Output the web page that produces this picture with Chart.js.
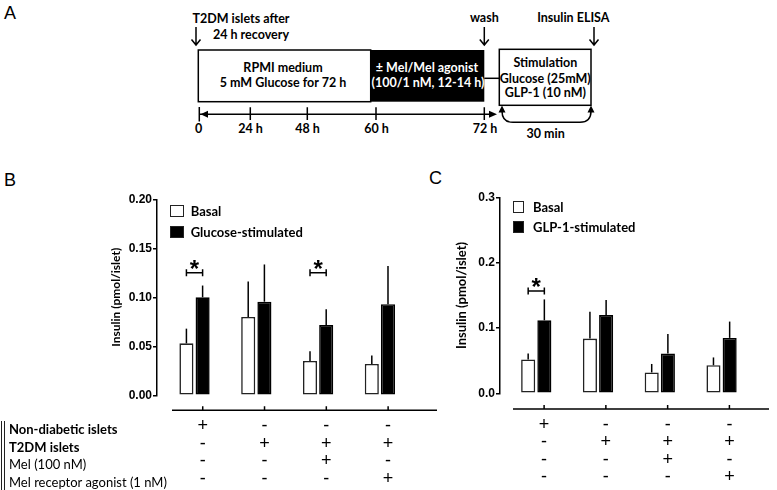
<!DOCTYPE html>
<html>
<head>
<meta charset="utf-8">
<script src="https://cdn.jsdelivr.net/npm/chart.js@4.4.1/dist/chart.umd.min.js"></script>
<style>
  body { margin: 0; background: #fff; }
  #fig { position: relative; width: 777px; height: 490px; overflow: hidden; font-family: Lato, sans-serif; color: #000; }
  canvas { position: absolute; }
  .plabel { position: absolute; font-family: 'Liberation Sans', Arial, sans-serif; font-size: 18px; line-height: 18px; }
  .leg { position: absolute; font-weight: bold; font-size: 13px; }
  .leg div { display: flex; align-items: center; white-space: nowrap; }
  .leg i { display: inline-block; box-sizing: border-box; border: 1.5px solid #222; }
  .rows { position: absolute; left: 1px; top: 421px; border-left: 4px double #222; padding-left: 4px; font-size: 13px; }
  .rows div { height: 17.5px; line-height: 17.5px; white-space: nowrap; }
</style>
</head>
<body>
<div id="fig">
  <div class="plabel" style="left:4px;top:4px">A</div>
  <div class="plabel" style="left:4px;top:171px">B</div>
  <div class="plabel" style="left:429px;top:169px">C</div>

  <!-- A: esquema del protocolo -->
  <svg style="position:absolute;left:0;top:0" width="777" height="150" font-family="Lato" font-weight="bold" font-size="12.5">
    <g stroke="#000" stroke-width="1.5" fill="none">
      <path d="M196 27V45M191.5 39.5L196 45L200.5 39.5"/>
      <path d="M484.3 27V45M479.8 39.5L484.3 45L488.8 39.5"/>
      <path d="M594 27V45M589.5 39.5L594 45L598.5 39.5"/>
      <rect x="198.3" y="50" width="172.4" height="51.7" fill="#fff"/>
      <path d="M484.3 78.3H499.3"/>
      <rect x="499.3" y="49.3" width="91.7" height="56" fill="#fff"/>
      <path d="M199.3 114.3H491M199.3 107V121.5M250.3 107.3V120M307.3 107.3V120M376 107.3V120M484.3 107.3V120"/>
      <path d="M502 111Q502 122.3 513 122.3H580Q591 122.3 591 111"/>
    </g>
    <rect x="370.7" y="50" width="113.6" height="51.7" fill="#000"/>
    <path d="M200.5 114.3L208 110.8V117.8Z M497 114.3L489 110.8V117.8Z M502 105.5L498.5 112.5H505.5Z M591 105.5L587.5 112.5H594.5Z" fill="#000"/>
    <g dominant-baseline="central">
      <text x="192.5" y="18.3">T2DM islets after</text>
      <text x="213" y="34.3">24 h recovery</text>
    </g>
    <g dominant-baseline="central" text-anchor="middle">
      <text x="484.3" y="17.3">wash</text>
      <text x="573.3" y="17.3">Insulin ELISA</text>
      <text x="283" y="67">RPMI medium</text>
      <text x="283" y="82.5">5 mM Glucose for 72 h</text>
      <text x="427" y="67" fill="#fff">± Mel/Mel agonist</text>
      <text x="428" y="82.5" fill="#fff">(100/1 nM, 12-14 h)</text>
      <text x="545.3" y="62.3">Stimulation</text>
      <text x="545.3" y="78.3">Glucose (25mM)</text>
      <text x="545.3" y="92.3">GLP-1 (10 nM)</text>
      <text x="198.5" y="128.3">0</text>
      <text x="250.5" y="128.3">24 h</text>
      <text x="307.5" y="128.3">48 h</text>
      <text x="376.5" y="128.3">60 h</text>
      <text x="485" y="128.3">72 h</text>
      <text x="545.7" y="133.3">30 min</text>
    </g>
  </svg>

  <canvas id="chartB" width="360" height="305" style="left:90px;top:185px"></canvas>
  <canvas id="chartC" width="337" height="305" style="left:440px;top:185px"></canvas>

  <div class="leg" id="legB" style="left:170px;top:199.8px"></div>
  <div class="leg" id="legC" style="left:512.7px;top:196.3px"></div>

  <div class="rows" id="rows"></div>
</div>

<script>
/* Condiciones (filas de +/- bajo cada grupo) */
const rowLabels = ['Non-diabetic islets', 'T2DM islets', 'Mel (100 nM)', 'Mel receptor agonist (1 nM)'];
const nonDiabetic = ['+', '-', '-', '-'];
const t2dmIslets = ['-', '+', '+', '+'];
const melatonin = ['-', '-', '+', '-'];
const melAgonist = ['-', '-', '-', '+'];

/* Panel B: glucosa */
const seriesB = ['Basal', 'Glucose-stimulated'];
const basalB = [0.053, 0.080, 0.035, 0.032];
const basalErrB = [0.015, 0.036, 0.010, 0.0085];
const glucoseB = [0.100, 0.0955, 0.0717, 0.093];
const glucoseErrB = [0.012, 0.038, 0.016, 0.039];
const yTicksB = ['0.00', '0.05', '0.10', '0.15', '0.20'];
const sigB = [0, 2];

/* Panel C: GLP-1 */
const seriesC = ['Basal', 'GLP-1-stimulated'];
const basalC = [0.052, 0.084, 0.032, 0.043];
const basalErrC = [0.009, 0.041, 0.013, 0.012];
const glp1C = [0.112, 0.120, 0.061, 0.085];
const glp1ErrC = [0.032, 0.023, 0.030, 0.025];
const yTicksC = ['0.0', '0.1', '0.2', '0.3'];
const sigC = [0];

const yTitle = 'Insulin (pmol/islet)';

/* Barras de error, asteriscos y eje x desplazado */
const extras = {
  id: 'extras',
  afterDatasetsDraw(chart, args, opts) {
    const ctx = chart.ctx;
    const y = chart.scales.y;
    ctx.save();
    ctx.strokeStyle = '#000';
    ctx.lineWidth = 1.5;
    opts.errors.forEach((errs, d) => {
      const ds = chart.data.datasets[d];
      chart.getDatasetMeta(d).data.forEach((bar, i) => {
        ctx.beginPath();
        ctx.moveTo(bar.x, bar.y);
        ctx.lineTo(bar.x, y.getPixelForValue(ds.data[i].y + errs[i]));
        ctx.stroke();
      });
    });

    const m0 = chart.getDatasetMeta(0), m1 = chart.getDatasetMeta(1);
    ctx.fillStyle = '#000';
    ctx.font = 'bold 24px "Liberation Sans", Arial';
    ctx.textAlign = 'center';
    ctx.textBaseline = 'alphabetic';
    opts.sig.forEach(i => {
      const x0 = m0.data[i].x, x1 = m1.data[i].x;
      const yy = y.getPixelForValue(opts.sigLevel);
      ctx.beginPath();
      ctx.moveTo(x0, yy - 3.5); ctx.lineTo(x0, yy + 3.5);
      ctx.moveTo(x0, yy); ctx.lineTo(x1, yy);
      ctx.moveTo(x1, yy - 3.5); ctx.lineTo(x1, yy + 3.5);
      ctx.stroke();
      ctx.fillText('*', (x0 + x1) / 2, yy + 4.5);
    });

    const xt = chart.scales.xt;
    const area = chart.chartArea;
    const base = area.bottom + opts.axisGap;
    ctx.beginPath();
    ctx.moveTo(area.left + opts.axisInset, base);
    ctx.lineTo(area.right, base);
    xt.ticks.forEach((t, k) => {
      const px = xt.getPixelForTick(k);
      ctx.moveTo(px, base - 4);
      ctx.lineTo(px, base);
    });
    ctx.stroke();
    ctx.restore();
  }
};

function conditions(v) {
  const i = Math.round(v) - 1;
  return [nonDiabetic[i], t2dmIslets[i], melatonin[i], melAgonist[i]];
}

function makePanel(id, o) {
  const pts = vals => vals.map((v, i) => ({ x: i + 1, y: v }));
  const barStyle = { borderWidth: 1.6, borderSkipped: false, categoryPercentage: 0.524, barPercentage: 0.87 };
  return new Chart(document.getElementById(id), {
    type: 'bar',
    data: {
      datasets: [
        Object.assign({ label: o.names[0], data: pts(o.basal), backgroundColor: '#fff', borderColor: '#222' }, barStyle),
        Object.assign({ label: o.names[1], data: pts(o.stim), backgroundColor: '#000', borderColor: '#000' }, barStyle)
      ]
    },
    options: {
      responsive: false,
      animation: false,
      devicePixelRatio: 1,
      events: [],
      layout: { padding: { left: 0, right: o.padRight, top: o.padTop, bottom: 0 } },
      plugins: {
        legend: { display: false },
        tooltip: { enabled: false },
        extras: { errors: [o.basalErr, o.stimErr], sig: o.sig, sigLevel: o.sigLevel, axisGap: o.axisGap, axisInset: o.axisInset }
      },
      scales: {
        x: {
          type: 'linear', display: false, offset: false, min: o.xMin, max: o.xMax,
          ticks: { stepSize: 1, includeBounds: false }
        },
        xt: {
          type: 'linear', position: 'bottom', offset: false, min: o.xMin - o.tickShift, max: o.xMax - o.tickShift,
          grid: { display: false, drawTicks: false, offset: false },
          border: { display: false },
          ticks: {
            stepSize: 1, includeBounds: false, autoSkip: false, maxRotation: 0,
            padding: o.rowPad, color: '#000',
            font: { family: '"Liberation Sans", Arial', size: 18, lineHeight: '17.5px' },
            callback: conditions
          },
          afterFit: s => { s.height = o.bottomH; }
        },
        y: {
          min: 0, max: o.yMax,
          border: { display: true, color: '#000', width: 1.5 },
          grid: { display: true, drawOnChartArea: false, drawTicks: true, tickLength: 4, color: '#000', lineWidth: 1.5 },
          ticks: {
            stepSize: o.yStep, padding: 1, color: '#000',
            font: { family: '"Liberation Sans", Arial', size: 12, weight: 'bold' },
            callback: (v, i) => o.yLabels[i]
          },
          title: {
            display: true, text: yTitle, color: '#000',
            font: { family: 'Lato', size: o.titleSize, weight: 'bold' },
            padding: { top: o.titlePad, bottom: 0 }
          },
          afterFit: s => { s.width = o.yWidth; }
        }
      }
    },
    plugins: [extras]
  });
}

makePanel('chartB', {
  names: seriesB, basal: basalB, stim: glucoseB, basalErr: basalErrB, stimErr: glucoseErrB,
  sig: sigB, sigLevel: 0.125, yMax: 0.2, yStep: 0.05, yLabels: yTicksB,
  xMin: 0.393, xMax: 4.924, tickShift: 0.133,
  padRight: 13, padTop: 14.3, bottomH: 94.7, yWidth: 67,
  titleSize: 12, titlePad: 18.8, rowPad: 22, axisGap: 15, axisInset: 15
});

makePanel('chartC', {
  names: seriesC, basal: basalC, stim: glp1C, basalErr: basalErrC, stimErr: glp1ErrC,
  sig: sigC, sigLevel: 0.157, yMax: 0.3, yStep: 0.1, yLabels: yTicksC,
  xMin: 0.413, xMax: 4.768, tickShift: 0.127,
  padRight: 8, padTop: 12.7, bottomH: 96.7, yWidth: 60,
  titleSize: 13, titlePad: 14.5, rowPad: 22.5, axisGap: 15.7, axisInset: 13
});

/* Leyendas HTML */
function legend(id, names, box, gap, rowH) {
  const fills = ['#fff', '#000'];
  document.getElementById(id).innerHTML = names.map((n, i) =>
    `<div style="height:${rowH}px"><i style="width:${box[0]}px;height:${box[1]}px;background:${fills[i]};margin-right:${gap}px"></i>${n}</div>`
  ).join('');
}
legend('legB', seriesB, [14, 12], 6.7, 21.5);
legend('legC', seriesC, [11.5, 12], 8.8, 20.8);

document.getElementById('rows').innerHTML = rowLabels.map((t, i) =>
  `<div style="font-weight:${i < 2 ? 'bold' : 'normal'}">${t}</div>`).join('');
</script>
</body>
</html>
